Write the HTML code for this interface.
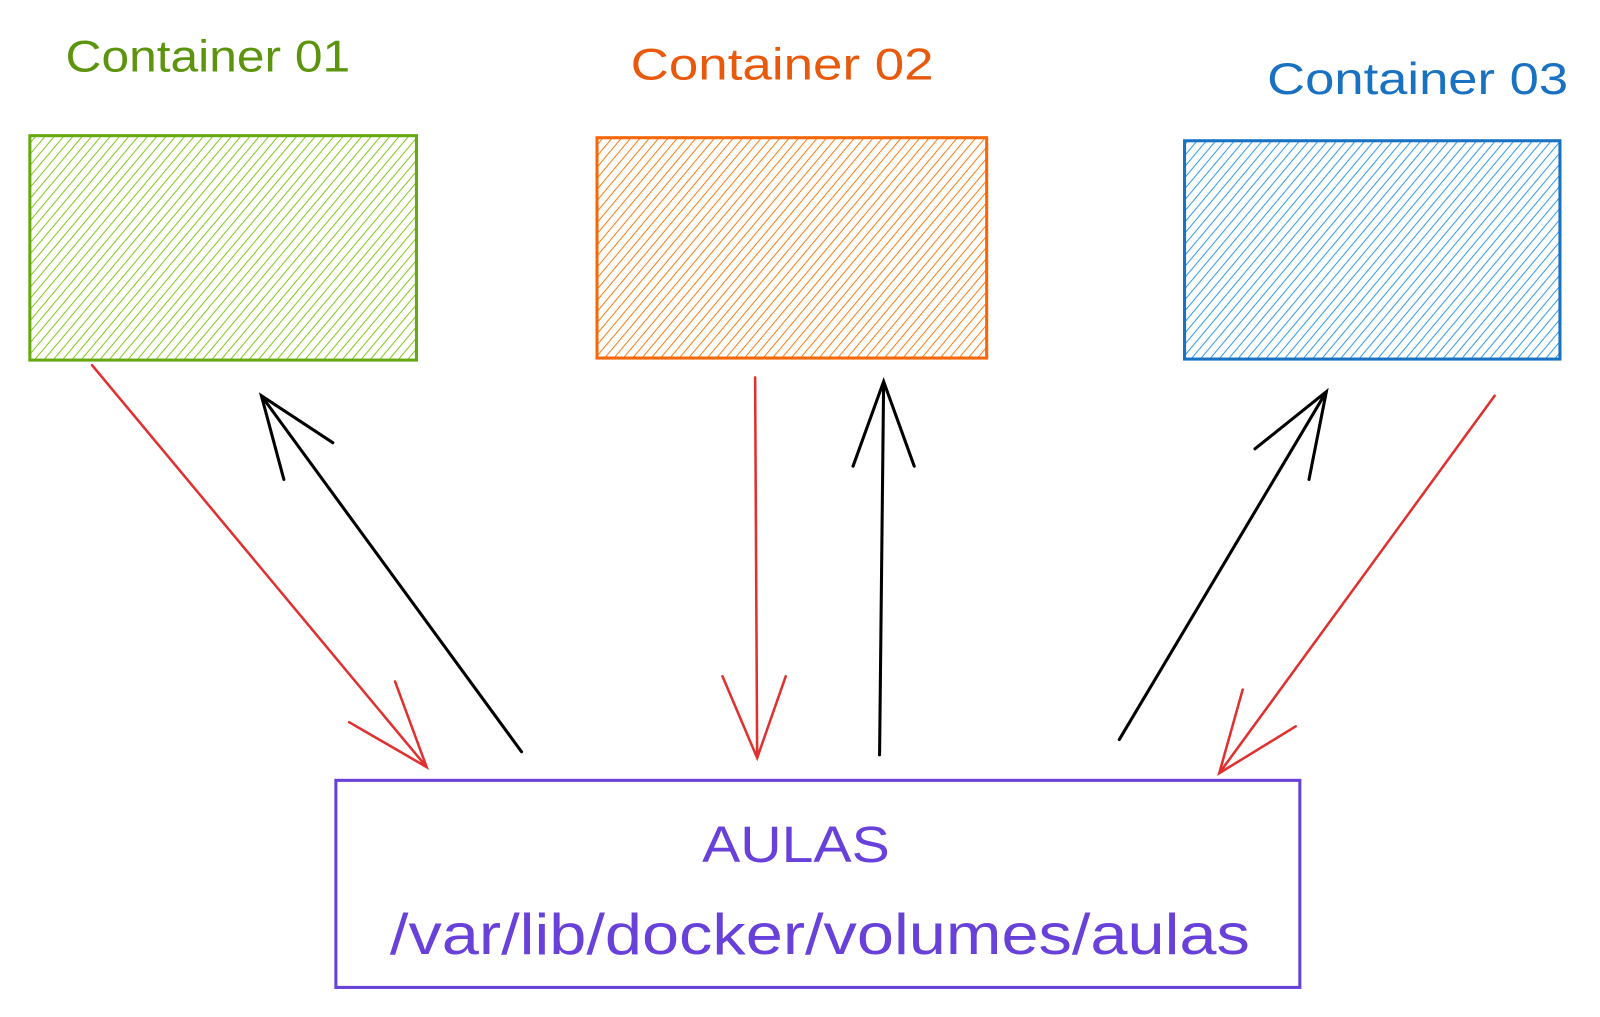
<!DOCTYPE html>
<html><head><meta charset="utf-8"><style>
html,body{margin:0;padding:0;background:#fff;}
svg{display:block}
text{font-family:"Liberation Sans",sans-serif;}
</style></head><body>
<svg width="1600" height="1017" viewBox="0 0 1568 997" xmlns="http://www.w3.org/2000/svg">
<defs>
<pattern id="hg" width="7" height="7" patternUnits="userSpaceOnUse" patternTransform="rotate(40)"><line x1="0" y1="0" x2="0" y2="7" stroke="#82c91e" stroke-width="2"/></pattern>
<pattern id="ho" width="7" height="7" patternUnits="userSpaceOnUse" patternTransform="rotate(40)"><line x1="0" y1="0" x2="0" y2="7" stroke="#fd7e14" stroke-width="2"/></pattern>
<pattern id="hb" width="7" height="7" patternUnits="userSpaceOnUse" patternTransform="rotate(40)"><line x1="0" y1="0" x2="0" y2="7" stroke="#339af0" stroke-width="2"/></pattern>
</defs>
<text x="64" y="70" font-size="44" fill="#5c940d" textLength="279" lengthAdjust="spacingAndGlyphs">Container 01</text>
<text x="618" y="78" font-size="44" fill="#e8590c" textLength="297" lengthAdjust="spacingAndGlyphs">Container 02</text>
<text x="1242" y="92" font-size="44" fill="#1971c2" textLength="295" lengthAdjust="spacingAndGlyphs">Container 03</text>

<rect x="29" y="133" width="379" height="220" fill="url(#hg)" stroke="#66a80f" stroke-width="3"/>
<rect x="585" y="135" width="382" height="216" fill="url(#ho)" stroke="#f76707" stroke-width="3"/>
<rect x="1161" y="138" width="368" height="214" fill="url(#hb)" stroke="#1971c2" stroke-width="3"/>

<rect x="329" y="765" width="945" height="203" fill="none" stroke="#6741d9" stroke-width="3"/>
<text x="688" y="845" font-size="50" fill="#6741d9" textLength="184" lengthAdjust="spacingAndGlyphs">AULAS</text>
<text x="382" y="935" font-size="56" fill="#6741d9" textLength="843" lengthAdjust="spacingAndGlyphs">/var/lib/docker/volumes/aulas</text>

<g fill="none" stroke-linecap="round" stroke-width="2.5">
<path d="M90 358 L418 752 M342 708 L418 752 L387 668" stroke="#e03131"/>
<path d="M511 737 L256 388 M278 470 L256 388 L326 434" stroke="#000" stroke-width="3"/>
<path d="M740 370 L742 743 M708 663 L742 743 L770 663" stroke="#e03131"/>
<path d="M862 740 L866 374 M836 457 L866 374 L896 457" stroke="#000" stroke-width="3"/>
<path d="M1097 725 L1300 384 M1230 440 L1300 384 L1283 470" stroke="#000" stroke-width="3"/>
<path d="M1465 388 L1195 758 M1270 712 L1195 758 L1218 676" stroke="#e03131"/>
</g>
</svg>
</body></html>
